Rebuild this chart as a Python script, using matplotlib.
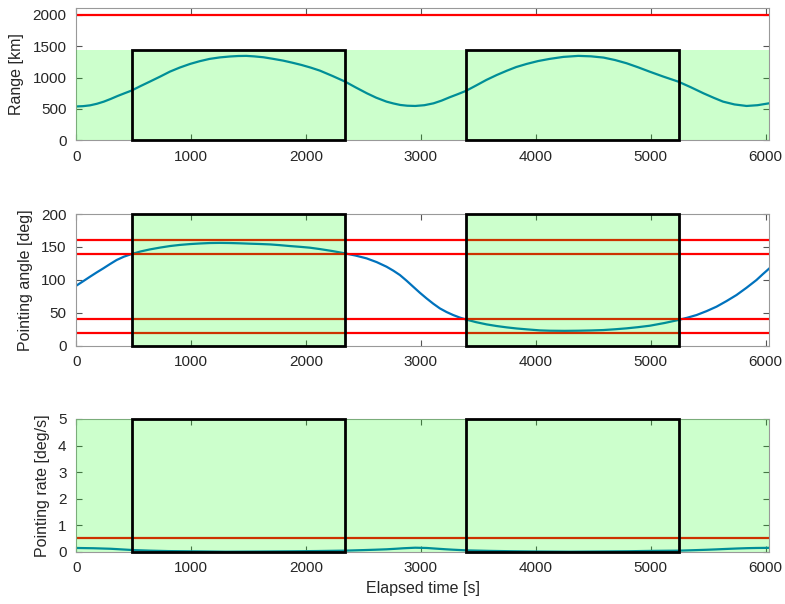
import numpy as np
import matplotlib.pyplot as plt
from matplotlib.patches import Rectangle

plt.rcParams['font.family'] = ['Liberation Sans', 'DejaVu Sans']

# visibility windows [s]
windows = [[485, 2339], [3389, 5245]]

# range [km]
t_range = [0, 60, 120, 180, 240, 300, 360, 420, 480, 560, 640, 730, 815, 900, 990,
           1075, 1160, 1250, 1340, 1410, 1480, 1550, 1630, 1710, 1800, 1880, 1960,
           2040, 2120, 2230, 2340, 2430, 2530, 2610, 2700, 2760, 2820, 2880, 2950,
           3030, 3110, 3180, 3250, 3320, 3390, 3480, 3570, 3660, 3750, 3830, 3920,
           4020, 4120, 4240, 4370, 4480, 4590, 4690, 4790, 4890, 4990, 5110, 5240,
           5350, 5460, 5550, 5630, 5730, 5835, 5930, 6030]
rng = [540, 545, 558, 583, 617, 660, 707, 750, 792, 865, 935, 1015, 1094, 1158, 1216,
       1260, 1296, 1320, 1335, 1342, 1344, 1336, 1322, 1298, 1269, 1236, 1200,
       1158, 1110, 1025, 935, 845, 749, 680, 617, 588, 564, 552, 548,
       560, 590, 633, 686, 735, 786, 873, 962, 1040, 1110, 1167, 1216,
       1262, 1296, 1328, 1344, 1337, 1317, 1278, 1227, 1163, 1094, 1015, 935,
       845, 749, 677, 617, 572, 548, 560, 590]
range_max = 1440
range_lim = 2000

# pointing angle [deg]
t_ang = [0, 60, 119, 177, 235, 293, 351, 415, 482, 560, 641, 730, 815, 900, 989,
         1075, 1163, 1250, 1337, 1420, 1511, 1600, 1686, 1770, 1860, 1950, 2034,
         2121, 2230, 2339, 2430, 2527, 2615, 2701, 2760, 2817, 2875, 2933, 2990,
         3049, 3107, 3165, 3223, 3281, 3335, 3389, 3480, 3572, 3660, 3746, 3833,
         3920, 4036, 4123, 4250, 4369, 4480, 4587, 4690, 4790, 4890, 4993, 5120,
         5239, 5320, 5399, 5486, 5573, 5660, 5747, 5834, 5921, 5975, 6030]
ang = [91.2, 98.0, 104.8, 111.3, 117.5, 124.0, 130.2, 135.3, 139.3, 143.2, 146.3, 149.1,
       151.4, 153.1, 154.4, 155.3, 156.0, 156.2, 156.0, 155.6, 155.0, 154.5, 153.9,
       152.8, 151.4, 150.2, 148.9, 146.8, 143.8, 140.3, 137.0, 132.7, 127.0, 120.0,
       114.0, 107.4, 98.8, 89.6, 80.6, 71.9, 63.9, 56.7, 51.2, 46.6, 43.0, 40.0,
       35.8, 32.4, 29.9, 27.9, 26.2, 24.9, 23.3, 22.8, 22.6, 22.8, 23.2, 23.8, 25.0,
       26.4, 28.2, 30.4, 34.5, 39.0, 42.6, 46.6, 52.5, 59.3, 67.8, 77.0, 88.0, 99.8,
       108.5, 117.0]
ang_lims = [20, 40, 140, 160]

# pointing rate [deg/s]
t_rate = [0, 150, 300, 400, 500, 650, 800, 1100, 1300, 1600, 1900, 2100, 2340, 2500,
          2600, 2700, 2780, 2850, 2950, 3050, 3150, 3220, 3280, 3400, 3600, 3800,
          4000, 4300, 4600, 4800, 5000, 5250, 5400, 5490, 5570, 5660, 5750, 5840,
          5920, 6030]
rate = [0.14, 0.13, 0.11, 0.085, 0.06, 0.038, 0.023, 0.01, 0.0, 0.007, 0.016, 0.025,
        0.04, 0.06, 0.074, 0.09, 0.11, 0.13, 0.15, 0.14, 0.11, 0.09, 0.075, 0.049,
        0.03, 0.017, 0.008, 0.0, 0.01, 0.017, 0.03, 0.04, 0.06, 0.073, 0.087, 0.104,
        0.12, 0.133, 0.14, 0.145]
rate_lim = 0.5

blue = (0, 0.447, 0.741)
green = (0, 1, 0, 0.2)
xmax = 6030

fig = plt.figure(figsize=(7.85, 6.04), dpi=100)
ax1 = fig.add_axes([0.0972, 0.7675, 0.8824, 0.2187])
ax2 = fig.add_axes([0.0972, 0.4276, 0.8824, 0.2180])
ax3 = fig.add_axes([0.0972, 0.0866, 0.8824, 0.2197])


def style(ax, ylim, yticks):
    ax.set_xlim(0, xmax)
    ax.set_ylim(*ylim)
    ax.set_xticks(range(0, 6001, 1000))
    ax.set_yticks(yticks)
    ax.tick_params(direction='in', top=True, right=True, length=4, width=0.8,
                   color='#555555', labelcolor='#262626', labelsize=11, pad=7)
    for s in ax.spines.values():
        s.set_color('#999999')
        s.set_linewidth(0.8)


def boxes(ax, top, filled):
    for a, b in windows:
        fc = green if filled else 'none'
        ax.add_patch(Rectangle((a, 0), b - a, top, facecolor=fc, edgecolor='k',
                               linewidth=2, zorder=5, clip_on=False))


# range
ax1.plot(t_range, rng, color=blue, lw=1.6, zorder=2)
ax1.axhline(range_lim, color='red', lw=1.6, zorder=2)
ax1.axhspan(0, range_max, facecolor=green, edgecolor='none', zorder=3)
boxes(ax1, range_max, False)
style(ax1, (0, 2100), range(0, 2001, 500))
ax1.set_ylabel('Range [km]', fontsize=11.5, color='#262626', labelpad=6)

# pointing angle
ax2.plot(t_ang, ang, color=blue, lw=1.6, zorder=2)
for v in ang_lims:
    ax2.axhline(v, color='red', lw=1.6, zorder=2)
boxes(ax2, 200, True)
style(ax2, (0, 200), range(0, 201, 50))
ax2.set_ylabel('Pointing angle [deg]', fontsize=11.5, color='#262626', labelpad=6)

# pointing rate
ax3.plot(t_rate, rate, color=blue, lw=1.6, zorder=2)
ax3.axhline(rate_lim, color='red', lw=1.6, zorder=2)
ax3.axhspan(0, 5, facecolor=green, edgecolor='none', zorder=3)
boxes(ax3, 5, False)
style(ax3, (0, 5), range(0, 6))
ax3.set_ylabel('Pointing rate [deg/s]', fontsize=11.5, color='#262626', labelpad=6)
ax3.set_xlabel('Elapsed time [s]', fontsize=11.5, color='#262626', labelpad=4)

plt.savefig('out.png')
